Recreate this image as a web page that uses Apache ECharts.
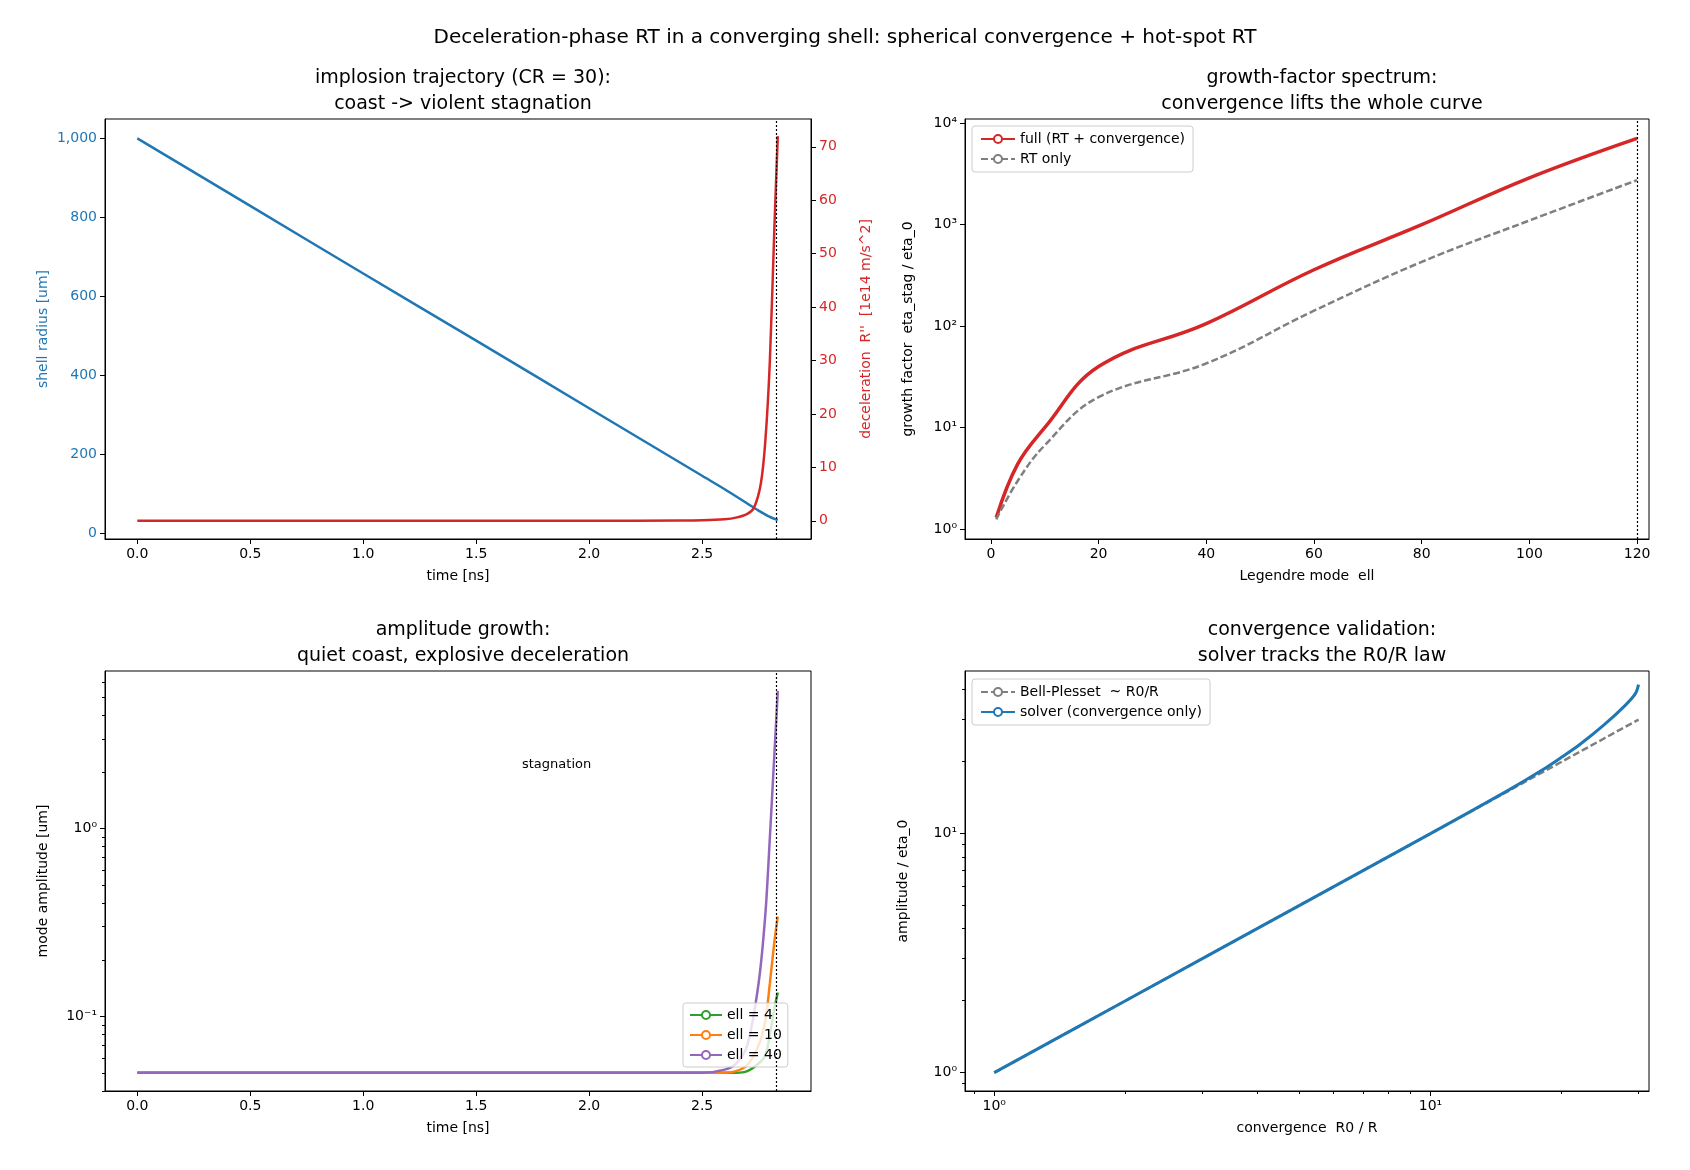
<!DOCTYPE html>
<html><head><meta charset="utf-8">
<script src="https://cdn.jsdelivr.net/npm/echarts@6/dist/echarts.min.js"></script>
<style>html,body{margin:0;background:#fff}#c{width:1690px;height:1170px}</style>
</head><body><div id="c"></div>
<script>
// ---- data ----
const tRadius = [0,0.5,1.0,1.5,2.0,2.5,2.6,2.7,2.75,2.8,2.835];
const radius  = [1000,829,658,488,317,146,112,76,58,42,34];
const tDecel  = [0,1.0,2.0,2.4,2.5,2.6,2.65,2.7,2.73,2.76,2.78,2.8,2.82,2.835];
const decel   = [0,0,0,0.05,0.1,0.3,0.6,1.3,2.5,7,15,30,55,72];
const tStag = 2.835;

const ell       = [1,5,10,20,40,60,80,100,120];
const gFull     = [1.3,4.4,10,40,106,360,1000,2900,7100];
const gRT       = [1.25,3,6.7,20,43,142,430,1100,2750];

const tAmp   = [0,1.0,2.0,2.5,2.6,2.65,2.7,2.75,2.78,2.8,2.82,2.835];
const amp4   = [0.05,0.05,0.05,0.05,0.05,0.05,0.051,0.056,0.062,0.08,0.11,0.134];
const amp10  = [0.05,0.05,0.05,0.05,0.05,0.051,0.055,0.07,0.095,0.15,0.25,0.34];
const amp40  = [0.05,0.05,0.05,0.05,0.052,0.056,0.07,0.15,0.35,0.9,2.5,5.4];

const conv    = [1,2,5,10,15,18,20,22,25,28,29.5,30];
const bell    = [1,2,5,10,15,18,20,22,25,28,29.5,30];
const solver  = [1,2,5,10,15.1,18.4,20.9,23.6,28.5,34.5,38.5,42];

const pairs = (xs, ys) => xs.map((x, i) => [x, ys[i]]);
const F = 'DejaVu Sans';
const sup = {0:'⁰',1:'¹',2:'²',3:'³',4:'⁴','-':'⁻'};
const pow10 = v => { const e = Math.round(Math.log10(v)); return '10' + String(e).split('').map(c => sup[c]).join(''); };

const blue = '#1f77b4', red = '#d62728', gray = '#7f7f7f';
const tickStyle = {color:'#000', fontFamily:F, fontSize:14};
function xAx(gi, extra) {
  return Object.assign({gridIndex:gi, type:'value', nameLocation:'middle', nameGap:30,
    nameTextStyle:{fontFamily:F, fontSize:14, color:'#000'},
    axisLine:{show:true, onZero:false, lineStyle:{color:'#000'}},
    axisTick:{show:true, length:5, lineStyle:{color:'#000'}},
    axisLabel:Object.assign({}, tickStyle, {margin:8}),
    splitLine:{show:false}}, extra);
}
function yAx(gi, extra) {
  return Object.assign({gridIndex:gi, type:'value', nameLocation:'middle', nameGap:55,
    nameTextStyle:{fontFamily:F, fontSize:14, color:'#000'},
    axisLine:{show:true, onZero:false, lineStyle:{color:'#000'}},
    axisTick:{show:true, length:5, lineStyle:{color:'#000'}},
    axisLabel:Object.assign({}, tickStyle, {margin:8}),
    splitLine:{show:false}}, extra);
}
const stagLine = x => ({symbol:'none', silent:true, label:{show:false},
  lineStyle:{color:'#000', type:[2,2], width:1.2}, data:[{xAxis:x}]});
const legendBox = {orient:'vertical', backgroundColor:'rgba(255,255,255,0.8)', borderColor:'#ccc', borderWidth:1,
  borderRadius:3, padding:[6,8], itemGap:6, itemWidth:34, itemHeight:10,
  textStyle:{fontFamily:F, fontSize:14, color:'#000'}};
const titleStyle = {fontFamily:F, fontSize:19, fontWeight:'normal', color:'#000', lineHeight:26};

const option = {
  animation:false,
  title:[
    {text:'Deceleration-phase RT in a converging shell: spherical convergence + hot-spot RT', left:'center', top:20, textStyle:Object.assign({}, titleStyle, {fontSize:20})},
    {text:'implosion trajectory (CR = 30):\ncoast -> violent stagnation', left:458, top:60, textAlign:'center', textStyle:titleStyle},
    {text:'growth-factor spectrum:\nconvergence lifts the whole curve', left:1317, top:60, textAlign:'center', textStyle:titleStyle},
    {text:'amplitude growth:\nquiet coast, explosive deceleration', left:458, top:612, textAlign:'center', textStyle:titleStyle},
    {text:'convergence validation:\nsolver tracks the R0/R law', left:1317, top:612, textAlign:'center', textStyle:titleStyle}
  ],
  grid:[
    {left:105, top:119, width:706, height:420, show:true, borderColor:'#000', borderWidth:1},
    {left:965, top:119, width:684, height:420, show:true, borderColor:'#000', borderWidth:1},
    {left:105, top:671, width:706, height:420, show:true, borderColor:'#000', borderWidth:1},
    {left:965, top:671, width:684, height:420, show:true, borderColor:'#000', borderWidth:1}
  ],
  legend:[
    Object.assign({}, legendBox, {data:['full (RT + convergence)','RT only'], left:972, top:126}),
    Object.assign({}, legendBox, {data:['Bell-Plesset  ~ R0/R','solver (convergence only)'], left:972, top:679}),
    Object.assign({}, legendBox, {data:['ell = 4','ell = 10','ell = 40'], left:683, top:1003, padding:[5,6], itemWidth:32})
  ],
  xAxis:[
    xAx(0, {name:'time [ns]', min:-0.143, max:2.982, axisTick:{show:true,length:5,lineStyle:{color:'#000'},customValues:[0,0.5,1,1.5,2,2.5]},
      axisLabel:Object.assign({}, tickStyle, {customValues:[0,0.5,1,1.5,2,2.5], formatter:v=>v.toFixed(1)})}),
    xAx(1, {name:'Legendre mode  ell', min:-4.8, max:122.2, axisTick:{show:true,length:5,lineStyle:{color:'#000'},customValues:[0,20,40,60,80,100,120]},
      axisLabel:Object.assign({}, tickStyle, {customValues:[0,20,40,60,80,100,120]})}),
    xAx(2, {name:'time [ns]', min:-0.143, max:2.982, axisTick:{show:true,length:5,lineStyle:{color:'#000'},customValues:[0,0.5,1,1.5,2,2.5]},
      axisLabel:Object.assign({}, tickStyle, {customValues:[0,0.5,1,1.5,2,2.5], formatter:v=>v.toFixed(1)})}),
    xAx(3, {type:'log', name:'convergence  R0 / R', min:0.857, max:31.7,
      axisTick:{show:true,length:5,lineStyle:{color:'#000'},customValues:[1,10]},
      minorTick:{show:true, splitNumber:9, length:3, lineStyle:{color:'#000'}},
      axisLabel:Object.assign({}, tickStyle, {customValues:[1,10], formatter:pow10})})
  ],
  yAxis:[
    yAx(0, {name:'shell radius [um]', min:-14, max:1049, nameTextStyle:{fontFamily:F,fontSize:14,color:blue},
      axisTick:{show:true,length:5,lineStyle:{color:'#000'},customValues:[0,200,400,600,800,1000]},
      axisLabel:Object.assign({}, tickStyle, {color:blue, customValues:[0,200,400,600,800,1000]})}),
    yAx(0, {position:'right', name:"deceleration  R''  [1e14 m/s^2]", nameGap:48, min:-3.4, max:75.2,
      nameTextStyle:{fontFamily:F,fontSize:14,color:red},
      axisTick:{show:true,length:5,lineStyle:{color:'#000'},customValues:[0,10,20,30,40,50,60,70]},
      axisLabel:Object.assign({}, tickStyle, {color:red, customValues:[0,10,20,30,40,50,60,70]})}),
    yAx(1, {type:'log', name:'growth factor  eta_stag / eta_0', nameGap:50, min:0.8, max:11000,
      axisTick:{show:true,length:5,lineStyle:{color:'#000'},customValues:[1,10,100,1000,10000]},
      axisLabel:Object.assign({}, tickStyle, {customValues:[1,10,100,1000,10000], formatter:pow10})}),
    yAx(2, {type:'log', name:'mode amplitude [um]', nameGap:55, min:0.040, max:6.9,
      axisTick:{show:true,length:5,lineStyle:{color:'#000'},customValues:[0.1,1]},
      minorTick:{show:true, splitNumber:9, length:3, lineStyle:{color:'#000'}},
      axisLabel:Object.assign({}, tickStyle, {customValues:[0.1,1], formatter:pow10})}),
    yAx(3, {type:'log', name:'amplitude / eta_0', nameGap:55, min:0.838, max:47.9,
      axisTick:{show:true,length:5,lineStyle:{color:'#000'},customValues:[1,10]},
      minorTick:{show:true, splitNumber:9, length:3, lineStyle:{color:'#000'}},
      axisLabel:Object.assign({}, tickStyle, {customValues:[1,10], formatter:pow10})})
  ],
  series:[
    {type:'line', xAxisIndex:0, yAxisIndex:0, data:pairs(tRadius, radius), smooth:0.3, showSymbol:false, lineStyle:{color:blue, width:2.5}, itemStyle:{color:blue}},
    {type:'line', xAxisIndex:0, yAxisIndex:1, data:pairs(tDecel, decel), smooth:0.3, showSymbol:false, lineStyle:{color:red, width:2.5}, itemStyle:{color:red}, markLine:stagLine(tStag)},
    {name:'full (RT + convergence)', type:'line', xAxisIndex:1, yAxisIndex:2, data:pairs(ell, gFull), smooth:0.4, showSymbol:false, lineStyle:{color:red, width:3.5}, itemStyle:{color:red}, markLine:stagLine(120)},
    {name:'RT only', type:'line', xAxisIndex:1, yAxisIndex:2, data:pairs(ell, gRT), smooth:0.4, showSymbol:false, lineStyle:{color:gray, width:2.5, type:[7,3]}, itemStyle:{color:gray}},
    {name:'ell = 4', type:'line', xAxisIndex:2, yAxisIndex:3, data:pairs(tAmp, amp4), smooth:0.3, showSymbol:false, lineStyle:{color:'#2ca02c', width:2.5}, itemStyle:{color:'#2ca02c'}},
    {name:'ell = 10', type:'line', xAxisIndex:2, yAxisIndex:3, data:pairs(tAmp, amp10), smooth:0.3, showSymbol:false, lineStyle:{color:'#ff7f0e', width:2.5}, itemStyle:{color:'#ff7f0e'}},
    {name:'ell = 40', type:'line', xAxisIndex:2, yAxisIndex:3, data:pairs(tAmp, amp40), smooth:0.3, showSymbol:false, lineStyle:{color:'#9467bd', width:2.5}, itemStyle:{color:'#9467bd'}, markLine:stagLine(tStag)},
    {name:'Bell-Plesset  ~ R0/R', type:'line', xAxisIndex:3, yAxisIndex:4, data:pairs(conv, bell), showSymbol:false, lineStyle:{color:gray, width:2.5, type:[7,3]}, itemStyle:{color:gray}},
    {name:'solver (convergence only)', type:'line', xAxisIndex:3, yAxisIndex:4, data:pairs(conv, solver), smooth:0.3, showSymbol:false, lineStyle:{color:blue, width:3}, itemStyle:{color:blue}}
  ],
  graphic:[{type:'text', left:522, top:758, style:{text:'stagnation', fontFamily:F, fontSize:13, fill:'#000'}}]
};
echarts.init(document.getElementById('c')).setOption(option);
</script></body></html>
